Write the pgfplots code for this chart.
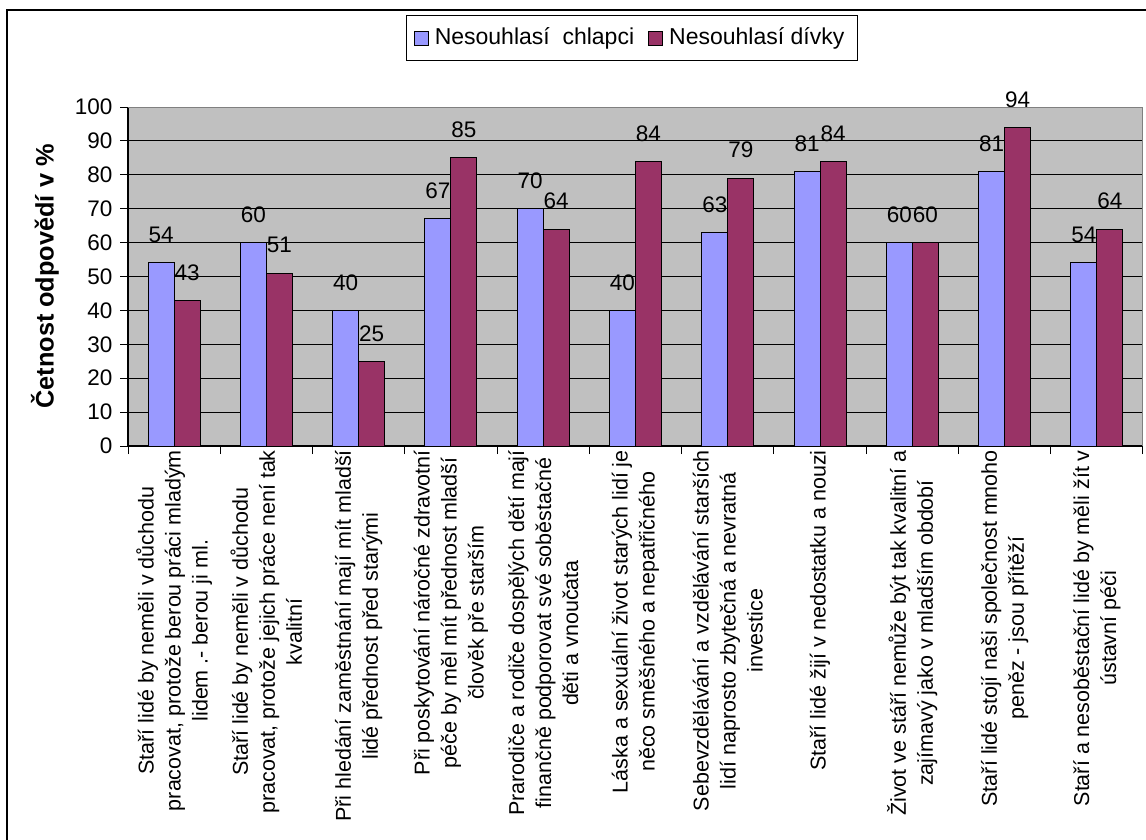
\documentclass[border=0pt]{standalone}
\usepackage{fontspec}
\setmainfont{Liberation Sans}
\usepackage{pgfplots}
\pgfplotsset{compat=1.18}
\definecolor{boys}{HTML}{9999FF}
\definecolor{girls}{HTML}{993366}
\definecolor{plotbg}{HTML}{C0C0C0}
\definecolor{plotframe}{HTML}{808080}
\newcommand{\chartfont}{\fontsize{22.5}{27}\selectfont}

\begin{document}
\begin{tikzpicture}
\path[use as bounding box] (0pt,0pt) rectangle (1146pt,-839pt);
\draw[line width=1.3pt] (7pt,-10pt) rectangle (1170pt,-870pt);
\begin{axis}[
    at={(128pt,-446pt)}, anchor=south west,
    scale only axis, width=1015pt, height=339pt,
    ybar=0pt, bar width=26pt,
    xmin=-0.5, xmax=10.5, ymin=0, ymax=100,
    enlargelimits=false, clip=false,
    axis background/.style={fill=plotbg},
    axis x line*=bottom, axis y line*=left,
    axis line style={black, line width=1.3pt, -},
    ytick={0,10,...,100},
    ymajorgrids, grid style={black, line width=1pt},
    tick align=outside, major tick length=8pt, minor tick length=8pt,
    tick style={black, line width=1pt},
    major x tick style={draw=none},
    xtick={0,...,10},
    minor xtick={-0.5,0.5,...,10.5},
    /pgf/number format/assume math mode=true,
    yticklabel style={font=\chartfont, xshift=-4pt},
    xticklabel style={rotate=90, anchor=east, align=center,
        font=\fontsize{21.5}{27}\selectfont, inner sep=0pt, xshift=4pt},
    xticklabels={
        {Staří lidé by neměli v důchodu\\pracovat, protože berou práci mladým\\lidem .- berou ji ml.},
        {Staří lidé by neměli v důchodu\\pracovat, protože jejich práce není tak\\kvalitní},
        {Při hledání zaměstnání mají mít mladší\\lidé přednost před starými},
        {Při poskytování náročné zdravotní\\péče by měl mít přednost mladší\\člověk pře starším},
        {Prarodiče a rodiče dospělých dětí mají\\finančně podporovat své soběstačné\\děti a vnoučata},
        {Láska a sexuální život starých lidí je\\něco směšného a nepatřičného},
        {Sebevzdělávání a vzdělávání starších\\lidí naprosto zbytečná a nevratná\\investice},
        {Staří lidé žijí v nedostatku a nouzi},
        {Život ve stáří nemůže být tak kvalitní a\\zajímavý jako v mladším období},
        {Staří lidé stojí naši společnost mnoho\\peněz - jsou přítěží},
        {Staří a nesoběstační lidé by měli žít v\\ústavní péči}
    },
    ylabel={\bfseries Četnost odpovědí v \%},
    ylabel style={at={(axis description cs:-0.0818,0.5)}, anchor=center, font=\fontsize{25.3}{29}\selectfont},
    nodes near coords,
    every node near coord/.append style={font=\chartfont, inner sep=0pt, anchor=south, yshift=19.5pt, black},
    legend columns=2,
    legend style={at={(axis description cs:0.4966,1.1357)}, anchor=south,
        draw=black, line width=1pt, fill=white, font=\fontsize{23}{27}\selectfont,
        inner xsep=7pt, inner ysep=2pt,
        nodes={inner xsep=6pt, inner ysep=2pt, text height=17pt, text depth=5pt, minimum height=41pt},
        /tikz/every even column/.append style={column sep=8pt}},
    after end axis/.code={
        \draw[plotframe, line width=1pt] (rel axis cs:0,1) -- (rel axis cs:1,1) -- (rel axis cs:1,0);
    },
]
\addplot[fill=boys, draw=black, line width=1pt,
    legend image code/.code={\draw[fill=boys, draw=black, line width=1pt] (0pt,-7pt) rectangle (14pt,7pt);}]
    coordinates {(0,54) (1,60) (2,40) (3,67) (4,70) (5,40) (6,63) (7,81) (8,60) (9,81) (10,54)};
\addplot[fill=girls, draw=black, line width=1pt,
    legend image code/.code={\draw[fill=girls, draw=black, line width=1pt] (0pt,-7pt) rectangle (14pt,7pt);}]
    coordinates {(0,43) (1,51) (2,25) (3,85) (4,64) (5,84) (6,79) (7,84) (8,60) (9,94) (10,64)};
\legend{Nesouhlasí~ chlapci, Nesouhlasí dívky}
\end{axis}
\end{tikzpicture}
\end{document}
